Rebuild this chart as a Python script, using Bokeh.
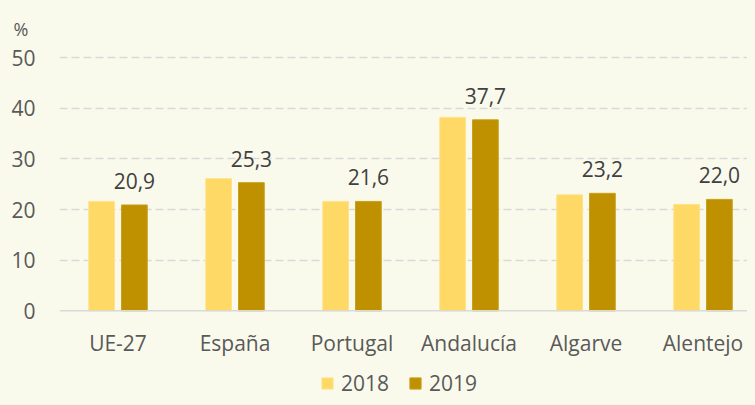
from bokeh.plotting import figure
from bokeh.models import ColumnDataSource, Range1d, FixedTicker, Span
from bokeh.transform import dodge
from bokeh.core.properties import value
from bokeh.embed import file_html
from bokeh.resources import INLINE

# ---- data ----
categories = ["UE-27", "España", "Portugal", "Andalucía", "Algarve", "Alentejo"]
values_2018 = [21.6, 26.1, 21.6, 38.2, 22.9, 21.0]
values_2019 = [20.9, 25.3, 21.6, 37.7, 23.2, 22.0]
y_ticks = [0, 10, 20, 30, 40, 50]
series_names = ["2018", "2019"]
unit_label = "%"

BG = "#FAFAEC"
C2018 = "#FFD966"
C2019 = "#BF9000"
FONT = "Open Sans"
GREY = "#595959"

idx = list(range(len(categories)))
src = ColumnDataSource(dict(
    x=idx,
    cat=categories,
    zero=[0] * len(categories),
    v2018=values_2018,
    v2019=values_2019,
    lab2019=[f"{v:.1f}".replace(".", ",") for v in values_2019],
))

W, H = 747, 397
left, right, top, bottom = 59, 0, 54, 0
frame_w = W - left - right
step = 117.0
p = figure(width=W, height=H, output_backend="svg", toolbar_location=None,
           x_axis_location=None, title=unit_label,
           x_range=Range1d(-0.5, -0.5 + frame_w / step),
           y_range=Range1d(-17.1, 50.6),
           min_border_left=left, min_border_right=right,
           min_border_top=top, min_border_bottom=bottom)
p.background_fill_color = BG
p.border_fill_color = BG
p.outline_line_color = None

p.title.align = "left"
p.title.offset = -46
p.title.standoff = 28
p.title.text_font = FONT
p.title.text_font_size = "18px"
p.title.text_font_style = "normal"
p.title.text_color = GREY

# grid
p.xgrid.visible = False
p.ygrid.ticker = FixedTicker(ticks=y_ticks[1:])
p.ygrid.grid_line_color = "#D9D9D9"
p.ygrid.grid_line_width = 1.5
p.ygrid.grid_line_dash = "8 4"

# category axis line
p.add_layout(Span(location=0, dimension="width", line_color="#D9D9D9",
                  line_width=1.5))

bw = 0.22
off = 0.14
p.vbar(x=dodge("x", -off), top="v2018", width=bw, source=src,
       fill_color=C2018, line_color="#FFE38A", line_width=1,
       legend_label=series_names[0])
p.vbar(x=dodge("x", off), top="v2019", width=bw, source=src,
       fill_color=C2019, line_color="#C9A019", line_width=1,
       legend_label=series_names[1])

# value labels (2019)
p.text(x=dodge("x", off), y="v2019", text="lab2019", source=src,
       text_align="center", text_baseline="alphabetic", y_offset=-24,
       text_font=value(FONT), text_font_size="21px", text_color="#404040")

# category labels
p.text(x="x", y="zero", text="cat", source=src,
       text_align="center", text_baseline="alphabetic", y_offset=32,
       text_font=value(FONT), text_font_size="21px", text_color=GREY)

# y axis
p.yaxis.ticker = FixedTicker(ticks=y_ticks)
p.yaxis.axis_line_color = None
p.yaxis.major_tick_line_color = None
p.yaxis.minor_tick_line_color = None
p.yaxis.major_tick_out = 0
p.yaxis.major_label_standoff = 24
p.yaxis.major_label_text_font = FONT
p.yaxis.major_label_text_font_size = "21px"
p.yaxis.major_label_text_color = GREY

lg = p.legend[0]
lg.orientation = "horizontal"
lg.location = (261, 0)
lg.glyph_width = 14
lg.glyph_height = 14
lg.label_standoff = 7
lg.spacing = 19
lg.padding = 0
lg.margin = 0
lg.border_line_color = None
lg.background_fill_alpha = 0
lg.label_text_font = FONT
lg.label_text_font_size = "21px"
lg.label_text_color = GREY

html = file_html(p, INLINE)
html = html.replace("</head>", "<style>html,body{background:%s;}</style></head>" % BG, 1)
open("out.html", "w").write(html)
